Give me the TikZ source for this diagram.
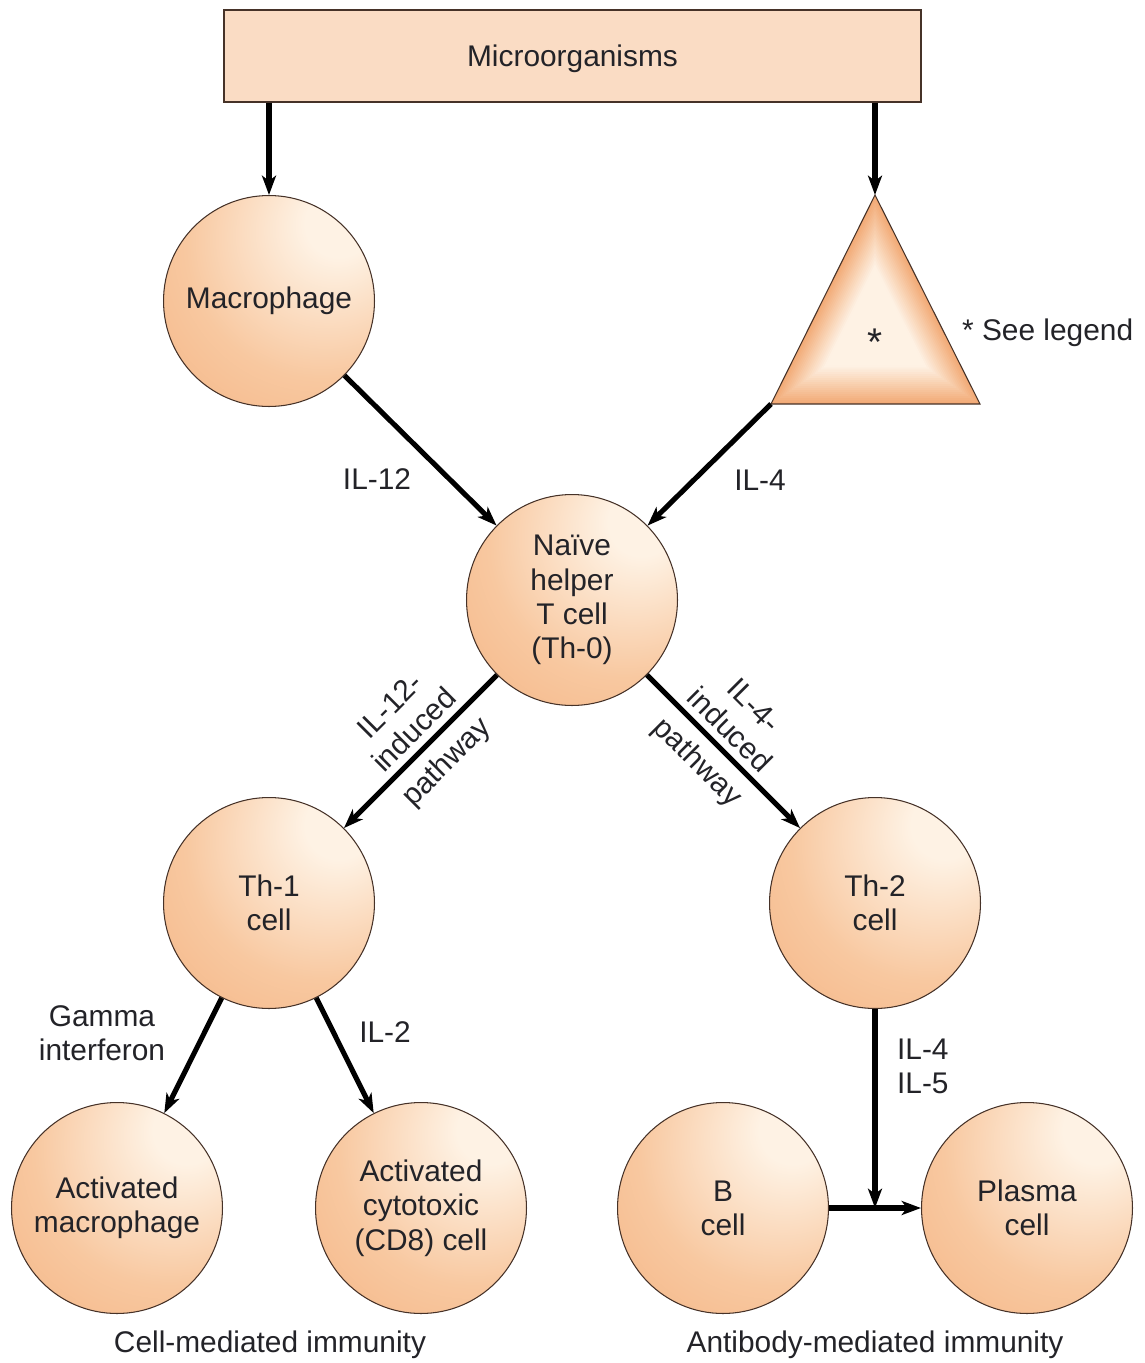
\documentclass[tikz,border=0pt]{standalone}
\usepackage{fontspec}
\setmainfont{Liberation Sans}
\usetikzlibrary{positioning,arrows.meta,calc}
\definecolor{cellpeach}{RGB}{242,170,118}
\definecolor{cellmid}{RGB}{248,200,160}
\definecolor{cellhi}{RGB}{254,242,228}
\definecolor{boxfill}{RGB}{250,220,196}
\definecolor{rimline}{RGB}{70,50,40}
\definecolor{inkgrey}{RGB}{35,35,40}
\pgfdeclareradialshading{cellshade}{\pgfpoint{18bp}{20bp}}{color(0bp)=(cellhi); color(8bp)=(cellhi); color(32bp)=(cellmid); color(62bp)=(cellpeach); color(100bp)=(cellpeach)}
\newcommand{\cellfont}{\fontsize{17}{19.5}\selectfont}
\tikzset{
  cell/.style={circle,draw=rimline,line width=0.6pt,shade,shading=cellshade,minimum size=4.22cm,inner sep=0pt,align=center,text=inkgrey,font=\cellfont},
  srcbox/.style={rectangle,draw=rimline,line width=0.8pt,fill=boxfill,minimum width=13.94cm,minimum height=1.84cm,text=inkgrey,font=\cellfont},
  flow/.style={line width=2.9pt,-{Stealth[length=11pt,width=8pt,inset=3pt]}},
  thickflow/.style={flow,line width=3.8pt},
  lab/.style={text=inkgrey,font=\cellfont,align=center,inner sep=1pt}
}
\begin{document}
\begin{tikzpicture}[x=0.02cm,y=-0.02cm]
  \useasboundingbox (0,0) rectangle (1144,1363);
  % source and first cells
  \node[srcbox,text depth=0pt] (micro) at (572.5,56) {Microorganisms};
  \node[cell] (mac) at (269,301) {Macrophage};
  \coordinate (tritop) at (875,195);
  \coordinate (trileft) at (771,404);
  \coordinate (triright) at (980,404);
  \coordinate (triglow) at (875,332);
  % triangle: peach rim fading to a pale core
  \foreach \k in {0,...,24} {
    \pgfmathsetmacro\s{1-0.028*\k}
    \pgfmathsetmacro\p{min(100,5.5*\k)}
    \fill[cellhi!\p!cellpeach] ($(triglow)!\s!(tritop)$) -- ($(triglow)!\s!(trileft)$)
      -- ($(triglow)!\s!(triright)$) -- cycle;
  }
  \draw[rimline,line width=0.6pt] (tritop) -- (trileft) -- (triright) -- cycle;
  \node[lab,font=\fontsize{22}{24}\selectfont] (star) at (875,342) {*};
  \node[lab,anchor=west] (legend) at (960,333) {* See legend};
  \node[cell] (naive) at (572,600) {Naïve\\helper\\T cell\\(Th-0)};
  % helper cells
  \node[cell] (th1) at (269,903) {Th-1\\cell};
  \node[cell] (th2) at (875,903) {Th-2\\cell};
  % effector cells
  \node[cell] (actmac) at (117,1208) {Activated\\macrophage};
  \node[cell] (cyto) at (421,1208) {Activated\\cytotoxic\\(CD8) cell};
  \node[cell] (bcell) at (723,1208) {B\\cell};
  \node[cell] (plasma) at (1027,1208) {Plasma\\cell};
  \coordinate (join) at (th2 |- bcell);

  \draw[thickflow] (micro.south -| mac.north) -- (mac.north);
  \draw[thickflow] (micro.south -| tritop) -- (tritop);
  \draw[flow] (mac) -- (naive);
  \draw[flow] (trileft) -- (naive);
  \draw[flow] (naive) -- node[lab,sloped,above=3pt,pos=0.45] {IL-12-\\induced}
    node[lab,sloped,below=5pt,pos=0.45] {pathway} (th1);
  \draw[flow] (naive) -- node[lab,sloped,above=3pt,pos=0.45] {IL-4-\\induced}
    node[lab,sloped,below=5pt,pos=0.45] {pathway} (th2);
  \draw[flow] (th1) -- (actmac);
  \draw[flow] (th1) -- (cyto);
  \draw[thickflow] (th2) -- (join);
  \draw[thickflow] (bcell) -- (plasma);

  % labels
  \node[lab] (il12) at (377,479) {IL-12};
  \node[lab] (il4) at (760,480) {IL-4};
  \node[lab] (gamma) at (102,1033) {Gamma\\interferon};
  \node[lab] (il2) at (385,1032) {IL-2};
  \node[lab,align=left,anchor=west] (il45) at (895,1066) {IL-4\\IL-5};
  \node[lab] (cellimm) at (270,1345) {Cell-mediated immunity};
  \node[lab] (abimm) at (875,1345) {Antibody-mediated immunity};
\end{tikzpicture}
\end{document}
